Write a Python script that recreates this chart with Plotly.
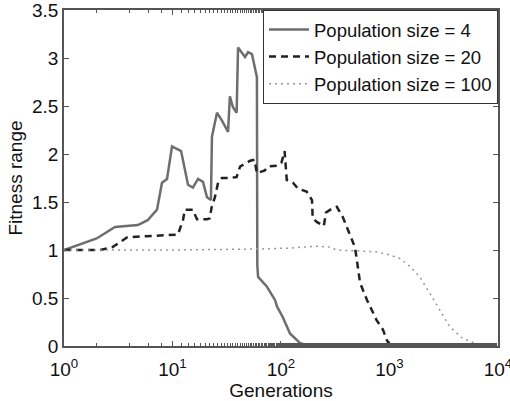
import plotly.graph_objects as go

# Population size = 4 (solid)
gen4 = [1, 2.0, 2.95, 4.8, 5.9, 7.2, 8.0, 8.9, 9.9, 12, 13.9, 15.4, 17.2, 19.1, 20.8, 22, 22.6,
        23.1, 25.7, 28.5, 32.5, 33.8, 36, 39, 40.2, 46.6, 49.7, 54, 57.5, 60, 60.5, 61.5,
        74, 88, 92, 104, 121, 150, 185, 300]
fit4 = [1.0, 1.12, 1.24, 1.26, 1.31, 1.42, 1.70, 1.74, 2.08, 2.03, 1.68, 1.65, 1.74, 1.71, 1.55, 1.53, 1.52,
        2.18, 2.43, 2.35, 2.23, 2.60, 2.49, 2.43, 3.11, 3.01, 3.06, 3.04, 2.91, 2.80, 0.84, 0.72,
        0.62, 0.48, 0.41, 0.30, 0.13, 0.03, 0.0, 0.0]

# Population size = 20 (dashed)
gen20 = [1, 2.15, 2.8, 3.3, 3.8, 5.0, 7.7, 11.2, 12.5, 13, 15.4, 16.8, 20.8, 22, 23, 24.6, 26.3,
         28.5, 34, 39, 42, 52, 57, 60, 71, 76, 94, 101, 108, 110, 113, 129, 143, 172, 193,
         196, 215, 248, 260, 294, 327, 372, 430, 480, 500, 535, 620, 760, 870, 945, 1010, 3000]
fit20 = [1.0, 1.0, 1.03, 1.08, 1.13, 1.14, 1.15, 1.16, 1.31, 1.42, 1.42, 1.32, 1.32, 1.33, 1.45, 1.55, 1.70,
         1.75, 1.75, 1.76, 1.87, 1.93, 1.94, 1.80, 1.83, 1.87, 1.88, 1.91, 2.03, 1.87, 1.73, 1.70, 1.64, 1.61, 1.52,
         1.33, 1.29, 1.25, 1.39, 1.43, 1.45, 1.34, 1.17, 1.03, 0.90, 0.66, 0.48, 0.27, 0.17, 0.06, 0.01, 0.0]

# Population size = 100 (dotted)
gen100 = [1, 10, 60, 120, 215, 280, 327, 760, 1000, 1250, 1540, 1900, 2350, 2900, 3600, 4700, 6400, 8500, 10000]
fit100 = [1.0, 1.0, 1.01, 1.02, 1.04, 1.03, 1.0, 0.98, 0.95, 0.91, 0.83, 0.72, 0.55, 0.38, 0.20, 0.08, 0.02, 0.0, 0.0]

series_names = ["Population size = 4", "Population size = 20", "Population size = 100"]
x_tickvals = [1, 10, 100, 1000, 10000]
x_ticktext = ["10<sup>0</sup>", "10<sup>1</sup>", "10<sup>2</sup>", "10<sup>3</sup>", "10<sup>4</sup>"]
y_tickvals = [0, 0.5, 1, 1.5, 2, 2.5, 3, 3.5]
y_ticktext = ["0", "0.5", "1", "1.5", "2", "2.5", "3", "3.5"]

fig = go.Figure()
fig.add_trace(go.Scatter(x=gen4, y=fit4, mode="lines", name=series_names[0],
                         line=dict(color="#6e6e6e", width=2.5)))
fig.add_trace(go.Scatter(x=gen20, y=fit20, mode="lines", name=series_names[1],
                         line=dict(color="#222222", width=2.5, dash="7px,5px")))
fig.add_trace(go.Scatter(x=gen100, y=fit100, mode="lines", name=series_names[2],
                         line=dict(color="#999999", width=1.5, dash="2px,4px")))

fam = "Liberation Sans, Arial, sans-serif"
font = dict(family=fam, size=19, color="#111111")
axcol = "#555555"
fig.update_layout(
    width=510, height=401,
    margin=dict(l=64, r=12, t=10, b=55, autoexpand=False),
    paper_bgcolor="white", plot_bgcolor="white",
    font=font,
    showlegend=True,
    legend=dict(x=1, y=1, xanchor="right", yanchor="top",
                bordercolor="#333333", borderwidth=1, bgcolor="white",
                font=dict(family=fam, size=18.5, color="#111111"),
                tracegroupgap=0, itemwidth=40),
    xaxis=dict(type="log", range=[0, 4.0001], tickvals=x_tickvals, ticktext=x_ticktext,
               ticklabeloverflow="allow", automargin=False, ticklabelstandoff=5,
               showgrid=False, zeroline=False, showline=True, linecolor=axcol, linewidth=1.5,
               mirror="ticks", ticks="inside", ticklen=5, tickcolor=axcol,
               minor=dict(ticks="inside", ticklen=3, tickcolor=axcol, showgrid=False),
               tickfont=font,
               title=dict(text="Generations", standoff=0, font=font)),
    yaxis=dict(range=[0, 3.5], tickvals=y_tickvals, ticktext=y_ticktext,
               ticklabeloverflow="allow", automargin=False,
               showgrid=False, zeroline=False, showline=True, linecolor=axcol, linewidth=1.5,
               mirror="ticks", ticks="inside", ticklen=5, tickcolor=axcol,
               tickfont=font,
               title=dict(text="Fitness range", standoff=4, font=font)),
)
fig.write_html("out.html", config={"displayModeBar": False},
               post_script="document.body.style.margin='0';")
